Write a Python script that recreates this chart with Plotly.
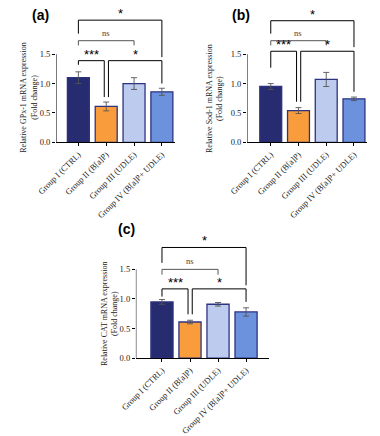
import plotly.graph_objects as go

W, H = 380, 436

groups = ["Group I (CTRL)", "Group II (B[a]P)", "Group III (UDLE)", "Group IV (B[a]P+ UDLE)"]
gpx_mean = [1.10, 0.61, 1.00, 0.86]
gpx_err = [0.10, 0.075, 0.10, 0.06]
sod_mean = [0.95, 0.54, 1.07, 0.74]
sod_err = [0.05, 0.05, 0.12, 0.03]
cat_mean = [0.95, 0.61, 0.91, 0.78]
cat_err = [0.04, 0.03, 0.03, 0.07]
y_ticks = [0.0, 0.5, 1.0, 1.5]
y_tick_text = ["0.0", "0.5", "1.0", "1.5"]

bar_colors = ["#272b6f", "#f99d3c", "#bdcbef", "#6d92dd"]
outline = "#2c3380"

panels = [
    dict(key="a", mean=gpx_mean, err=gpx_err, title="Relative GPx-1 mRNA expression<br>(Fold change)",
         ax=39, axr=164, y0=147, y15=56, ytop=8, c0=62.5, dc=29.3, tx=10, lab=(23, 15),
         brackets=[(0, 3, 2.08, 1.85, 1.45, "*"), (0, 2, 1.73, 1.65, 1.65, "ns"),
                   (0, 0.93, 1.39, 1.32, 0.77, "***"), (1.08, 3, 1.39, 0.77, 1.0, "*")]),
    dict(key="b", mean=sod_mean, err=sod_err, title="Relative Sod-1 mRNA expression<br>(Fold change)",
         ax=240, axr=366, y0=147, y15=56, ytop=8, c0=265, dc=29.2, tx=205, lab=(234, 15),
         brackets=[(0, 3, 2.07, 1.85, 1.62, "*"), (0, 2, 1.73, 1.65, 1.65, "ns"),
                   (0, 0.93, 1.55, 1.27, 0.69, "***"), (1.08, 3, 1.55, 0.69, 0.86, "*")]),
    dict(key="c", mean=cat_mean, err=cat_err, title="Relative CAT mRNA expression<br>(Fold change)",
         ax=123, axr=263, y0=370, y15=278.3, ytop=232, c0=150.5, dc=29.5, tx=95, lab=(113, 237),
         brackets=[(0, 3, 1.87, 1.61, 1.23, "*"), (0, 2, 1.50, 1.41, 1.41, "ns"),
                   (0, 0.93, 1.17, 1.04, 0.74, "***"), (1.08, 3, 1.17, 0.74, 0.95, "*")]),
]

fig = go.Figure()
shapes, annotations = [], []
serif = "Liberation Serif, Times New Roman, serif"

for i, p in enumerate(panels):
    n = "" if i == 0 else str(i + 1)
    xa, ya = "x" + n, "y" + n
    ppu = (p["y0"] - p["y15"]) / 1.5
    ytop_val = (p["y0"] - p["ytop"]) / ppu
    xlo = (p["ax"] - p["c0"]) / p["dc"]
    xhi = (p["axr"] - p["c0"]) / p["dc"]
    fig.add_trace(go.Bar(
        x=list(range(len(groups))), y=p["mean"], xaxis=xa, yaxis=ya, width=0.79,
        marker=dict(color=bar_colors, line=dict(color=outline, width=1.3)),
        error_y=dict(type="data", array=p["err"], color="#555555", thickness=0.9, width=3),
        showlegend=False))
    fig.update_layout(**{
        ("xaxis" + n): dict(domain=[p["ax"] / W, p["axr"] / W], range=[xlo, xhi], anchor=ya,
                            tickvals=list(range(len(groups))), ticktext=groups, tickangle=-45,
                            showline=True, linecolor="black", linewidth=1, ticks="outside",
                            ticklen=3, tickcolor="black", showgrid=False, zeroline=False,
                            tickfont=dict(family=serif, size=8.5, color="#222")),
        ("yaxis" + n): dict(domain=[1 - p["y0"] / H, 1 - p["ytop"] / H], range=[0, ytop_val],
                            anchor=xa, tickvals=y_ticks, ticktext=y_tick_text, showline=False,
                            ticks="outside", ticklen=3, tickcolor="black", showgrid=False,
                            zeroline=False, tickfont=dict(family=serif, size=8.5, color="#222")),
    })
    shapes.append(dict(type="line", xref=xa, yref=ya, x0=xlo, x1=xlo, y0=0, y1=1.5,
                       line=dict(color="black", width=1)))
    for (x1, x2, yb, l1, l2, txt) in p["brackets"]:
        col = "#555555" if txt == "ns" else "black"
        shapes.append(dict(type="path", xref=xa, yref=ya,
                           path=f"M {x1},{l1} L {x1},{yb} L {x2},{yb} L {x2},{l2}",
                           line=dict(color=col, width=1)))
        if txt == "ns":
            annotations.append(dict(xref=xa, yref=ya, x=(x1 + x2) / 2, y=yb, text="ns",
                                    showarrow=False, yanchor="bottom", yshift=1,
                                    font=dict(family=serif, size=8.5, color="#444444")))
        else:
            annotations.append(dict(xref=xa, yref=ya, x=(x1 + x2) / 2, y=yb, text=txt,
                                    showarrow=False, yanchor="bottom", yshift=-3,
                                    font=dict(family="Liberation Sans, Arial", size=13, color="black")))
    annotations.append(dict(xref="paper", yref="paper", x=p["tx"] / W,
                            y=1 - ((p["y0"] + p["y15"]) / 2) / H, text=p["title"], textangle=-90,
                            showarrow=False, xanchor="center", yanchor="middle",
                            font=dict(family=serif, size=8, color="#222")))
    annotations.append(dict(xref="paper", yref="paper", x=p["lab"][0] / W, y=1 - p["lab"][1] / H,
                            text="<b>(" + p["key"] + ")</b>", showarrow=False,
                            xanchor="center", yanchor="middle",
                            font=dict(family="Liberation Sans, Arial", size=14, color="black")))

fig.update_layout(width=W, height=H, margin=dict(l=0, r=0, t=0, b=0),
                  paper_bgcolor="white", plot_bgcolor="white", bargap=0.2,
                  shapes=shapes, annotations=annotations)
fig.write_html("out.html", config={"displayModeBar": False},
               post_script="document.body.style.margin='0';document.body.style.padding='0';")
